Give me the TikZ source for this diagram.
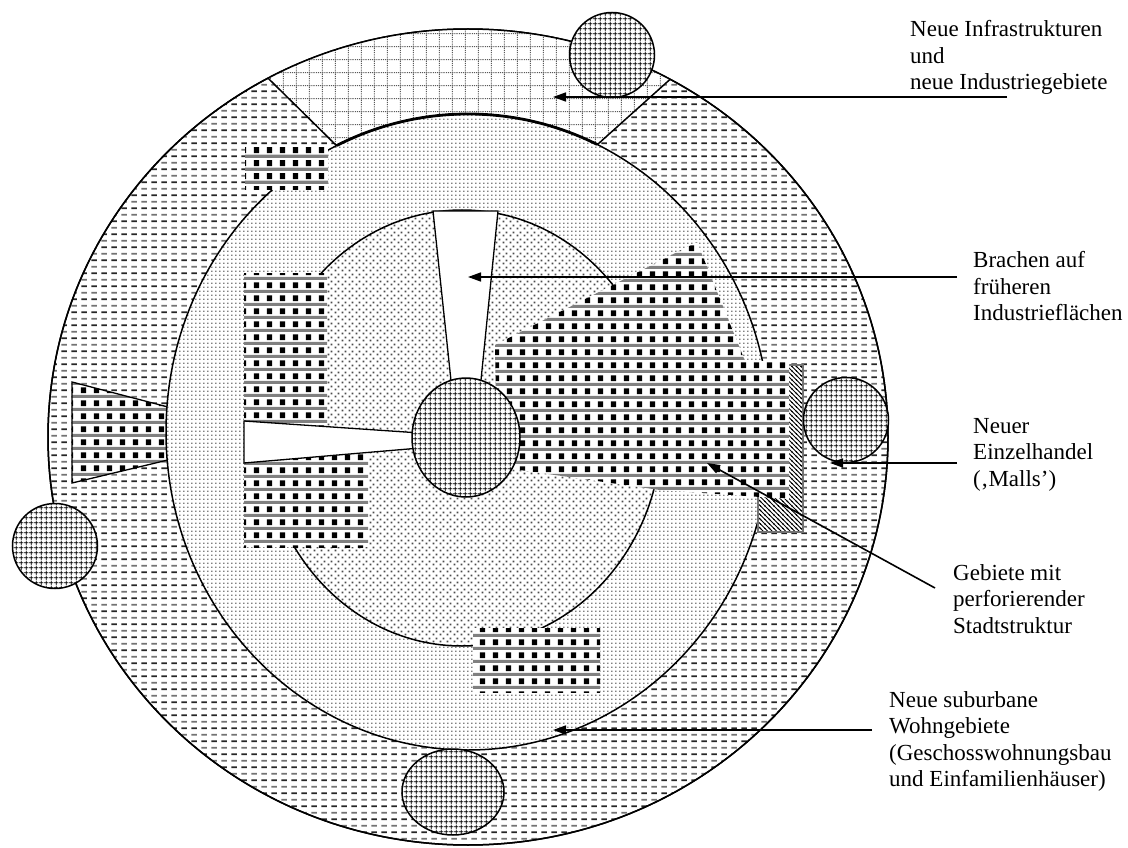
\documentclass[tikz,border=0pt]{standalone}
\usepackage{fontspec}
\setmainfont{Liberation Serif}
\usetikzlibrary{arrows.meta,shapes.geometric,patterns}

\pgfdeclarepatterninherentlycolored{ringdash}{\pgfqpoint{0pt}{0pt}}{\pgfqpoint{10pt}{13.4pt}}{\pgfqpoint{10pt}{13.4pt}}{
  \pgfsetfillcolor{black!85}
  \pgfpathrectangle{\pgfqpoint{1.5pt}{2pt}}{\pgfqpoint{6pt}{1.8pt}}
  \pgfusepath{fill}
  \pgfsetfillcolor{black!55}
  \pgfpathrectangle{\pgfqpoint{1.5pt}{8.7pt}}{\pgfqpoint{6pt}{1.8pt}}
  \pgfusepath{fill}
}
\pgfdeclarepatternformonly{lightdots}{\pgfqpoint{0pt}{0pt}}{\pgfqpoint{4.4pt}{3.8pt}}{\pgfqpoint{4.4pt}{3.8pt}}{
  \pgfpathrectangle{\pgfqpoint{1.6pt}{1.3pt}}{\pgfqpoint{1.2pt}{1.2pt}}
  \pgfusepath{fill}
}
\pgfdeclarepatternformonly{densedots}{\pgfqpoint{0pt}{0pt}}{\pgfqpoint{6.6pt}{6.6pt}}{\pgfqpoint{6.6pt}{6.6pt}}{
  \pgfpathrectangle{\pgfqpoint{0.6pt}{0.6pt}}{\pgfqpoint{1.9pt}{1.9pt}}
  \pgfpathrectangle{\pgfqpoint{3.9pt}{3.9pt}}{\pgfqpoint{1.9pt}{1.9pt}}
  \pgfusepath{fill}
}
\pgfdeclarepatternformonly{griddots}{\pgfqpoint{0pt}{0pt}}{\pgfqpoint{13.3pt}{13.3pt}}{\pgfqpoint{13.3pt}{13.3pt}}{
  \pgfsetlinewidth{0.9pt}
  \pgfsetdash{{1.1pt}{1.1pt}}{0pt}
  \pgfpathmoveto{\pgfqpoint{0pt}{6.65pt}}\pgfpathlineto{\pgfqpoint{13.3pt}{6.65pt}}
  \pgfpathmoveto{\pgfqpoint{6.65pt}{0pt}}\pgfpathlineto{\pgfqpoint{6.65pt}{13.3pt}}
  \pgfusepath{stroke}
}
\pgfdeclarepatternformonly{crossfine}{\pgfqpoint{0pt}{0pt}}{\pgfqpoint{4.7pt}{4.7pt}}{\pgfqpoint{4.7pt}{4.7pt}}{
  \pgfsetlinewidth{0.9pt}
  \pgfpathmoveto{\pgfqpoint{0pt}{2.35pt}}\pgfpathlineto{\pgfqpoint{4.7pt}{2.35pt}}
  \pgfpathmoveto{\pgfqpoint{2.35pt}{0pt}}\pgfpathlineto{\pgfqpoint{2.35pt}{4.7pt}}
  \pgfusepath{stroke}
}
\pgfdeclarepatterninherentlycolored{checks}{\pgfqpoint{0pt}{0pt}}{\pgfqpoint{13.3pt}{13.3pt}}{\pgfqpoint{13.3pt}{13.3pt}}{
  \pgfsetfillcolor{black!50}
  \pgfpathrectangle{\pgfqpoint{0pt}{0pt}}{\pgfqpoint{13.3pt}{3.4pt}}
  \pgfusepath{fill}
  \pgfsetfillcolor{black}
  \pgfpathrectangle{\pgfqpoint{2pt}{5pt}}{\pgfqpoint{5.4pt}{6.2pt}}
  \pgfusepath{fill}
}
\pgfdeclarepatternformonly{hatchnw}{\pgfqpoint{-1pt}{-1pt}}{\pgfqpoint{5.5pt}{5.5pt}}{\pgfqpoint{4.5pt}{4.5pt}}{
  \pgfsetlinewidth{0.8pt}
  \pgfpathmoveto{\pgfqpoint{0pt}{4.5pt}}\pgfpathlineto{\pgfqpoint{4.5pt}{0pt}}
  \pgfpathmoveto{\pgfqpoint{-0.5pt}{0.5pt}}\pgfpathlineto{\pgfqpoint{0.5pt}{-0.5pt}}
  \pgfpathmoveto{\pgfqpoint{4pt}{5pt}}\pgfpathlineto{\pgfqpoint{5pt}{4pt}}
  \pgfusepath{stroke}
}

\tikzset{
  ring/.style={preaction={fill=white}, pattern=ringdash, draw, line width=1.5pt},
  infra/.style={preaction={fill=white}, pattern=griddots, pattern color=black!65,
                draw, line width=1.5pt},
  midring/.style={preaction={fill=white}, pattern=lightdots, pattern color=black!75,
                  draw, line width=1.5pt},
  innerdisc/.style={preaction={fill=white}, pattern=densedots, pattern color=black!70,
                    draw, line width=1.5pt},
  checkbox/.style={preaction={fill=white}, pattern=checks},
  hatchbox/.style={preaction={fill=white}, pattern=hatchnw, pattern color=black,
                   draw=black!55, line width=1.2pt},
  gap/.style={fill=white, draw, line width=1.3pt},
  hub/.style={ellipse, draw, line width=1.5pt, inner sep=0pt, minimum size=85pt,
              preaction={fill=white}, pattern=crossfine, pattern color=black},
  lbl/.style={anchor=north west, align=left, inner sep=0pt,
              font=\fontsize{23}{26.5}\selectfont},
  arrow/.style={-{Triangle[length=13pt,width=9pt]}, line width=1.6pt}
}

\begin{document}
\begin{tikzpicture}[x=1pt, y=-1pt]
  \useasboundingbox (0,0) rectangle (1128,848);
  \draw[ring] (468,437) ellipse [x radius=420, y radius=408];
  \begin{scope}
    \clip (468,437) ellipse [x radius=420, y radius=408];
    \draw[infra] (345,154) -- (207,18) -- (734,22) -- (588,153) -- cycle;
  \end{scope}
  \draw[line width=1.5pt] (468,437) ellipse [x radius=420, y radius=408];
  \draw[checkbox, draw, line width=1.3pt] (72,382) -- (168,407) -- (168,460) -- (72,483) -- cycle;
  \draw[midring] (468,432) ellipse [x radius=302, y radius=318];
  \begin{scope}
    \clip (345,154) -- (207,18) -- (734,22) -- (588,153) -- cycle;
    \draw[line width=2.8pt] (468,432) ellipse [x radius=302, y radius=318];
  \end{scope}
  \draw[innerdisc] (462,428) ellipse [x radius=200, y radius=218];
  \draw[hatchbox] (758,365) rectangle (803,532);
  \fill[checkbox] (245,148) rectangle (328,190);
  \fill[checkbox] (244,273) rectangle (327,432);
  \fill[checkbox] (244,450) rectangle (368,547);
  \fill[checkbox] (473,628) rectangle (600,692);
  \fill[checkbox] (495,345) -- (697,242) -- (745,361) -- (789,361) -- (789,499)
    -- (660,490) -- (520,470) -- (497,468) -- cycle;
  \draw[gap] (433,211) -- (498,211) -- (480,390) -- (452,390) -- cycle;
  \draw[gap] (244,421) -- (420,433) -- (420,448) -- (244,463) -- cycle;

  \node[hub, minimum width=108pt, minimum height=119pt] (core) at (466,437.5) {};
  \node[hub] (north) at (612,55) {};
  \node[hub] (west) at (55,546) {};
  \node[hub] (east) at (846,420) {};
  \node[hub, minimum width=102pt, minimum height=86pt] (south) at (453,792) {};

  \node[lbl] (infralbl) at (910,20.3) {Neue Infrastrukturen\\und\\neue Industriegebiete};
  \node[lbl] (brachlbl) at (973,251.3) {Brachen auf\\früheren\\Industrieflächen};
  \node[lbl] (malllbl) at (973,417.8) {Neuer\\Einzelhandel\\(‚Malls’)};
  \node[lbl] (perflbl) at (953,564.3) {Gebiete mit\\perforierender\\Stadtstruktur};
  \node[lbl] (suburblbl) at (889,691.3) {Neue suburbane\\Wohngebiete\\(Geschosswohnungsbau\\und Einfamilienhäuser)};

  \coordinate (infra-a) at (1007,97);
  \coordinate (infra-b) at (553,97);
  \coordinate (brach-a) at (957,277);
  \coordinate (brach-b) at (468,277);
  \coordinate (mall-a) at (957,463);
  \coordinate (mall-b) at (830,463);
  \coordinate (perf-a) at (935,588);
  \coordinate (perf-b) at (707,463);
  \coordinate (suburb-a) at (872,730);
  \coordinate (suburb-b) at (553,730);
  \draw[arrow] (infra-a) -- (infra-b);
  \draw[arrow] (brach-a) -- (brach-b);
  \draw[arrow] (mall-a) -- (mall-b);
  \draw[arrow] (perf-a) -- (perf-b);
  \draw[arrow] (suburb-a) -- (suburb-b);
\end{tikzpicture}
\end{document}
